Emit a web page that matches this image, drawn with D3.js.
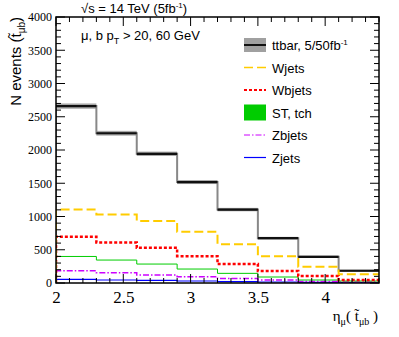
<!DOCTYPE html>
<html>
<head>
<meta charset="utf-8">
<script src="https://d3js.org/d3.v7.min.js"></script>
<style>
  body, html { margin: 0; background: #fff; }
  text { font-family: "Liberation Sans", Arial, sans-serif; }
</style>
</head>
<body>
<svg id="chart" width="399" height="337"></svg>
<script>
// bin edges in eta
var edges = [2, 2.3, 2.6, 2.9, 3.2, 3.5, 3.8, 4.1, 4.4];
// events per bin
var ttbar  = [2660, 2252, 1943, 1518, 1104, 674, 394, 184];
var ttErr  = [40, 36, 33, 30, 26, 20, 16, 12];
var wjets  = [1104, 1029, 933, 769, 584, 404, 245, 130];
var wbjets = [694, 609, 529, 404, 285, 180, 105, 45];
var sttch  = [399, 345, 285, 210, 145, 90, 45, 30];
var zbjets = [184, 155, 120, 95, 67, 45, 22, 15];
var zjets  = [55, 45, 38, 30, 22, 15, 8, 5];
var yTicks = [0, 500, 1000, 1500, 2000, 2500, 3000, 3500, 4000];
var xTicks = [2, 2.5, 3, 3.5, 4];

var svg = d3.select("#chart");
var L = 56, R = 379, T = 17, B = 283;
var serif = "'Liberation Serif', 'Times New Roman', serif";

var x = d3.scaleLinear().domain([2, 4.4]).range([L, R]);
var y = d3.scaleLinear().domain([0, 4000]).range([B, T]);

svg.append("clipPath").attr("id", "clip")
  .append("rect").attr("x", L).attr("y", T).attr("width", R - L).attr("height", B - T);

var plot = svg.append("g").attr("clip-path", "url(#clip)");

function stepPts(vals) {
  var pts = [[edges[0], 0]];
  vals.forEach(function(v, i) { pts.push([edges[i], v]); });
  pts.push([edges[edges.length - 1], vals[vals.length - 1]]);
  return pts;
}
var step = d3.line()
  .x(function(d) { return x(d[0]); })
  .y(function(d) { return y(d[1]); })
  .curve(d3.curveStepAfter);

// ttbar uncertainty band
plot.selectAll("rect.band").data(ttbar).enter().append("rect")
  .attr("class", "band")
  .attr("x", function(d, i) { return x(edges[i]); })
  .attr("width", function(d, i) { return x(edges[i + 1]) - x(edges[i]); })
  .attr("y", function(d, i) { return y(d + ttErr[i]); })
  .attr("height", function(d, i) { return y(d - ttErr[i]) - y(d + ttErr[i]); })
  .attr("fill", "#a8a8a8");

plot.append("path").attr("d", step(stepPts(ttbar)))
  .attr("fill", "none").attr("stroke", "#888").attr("stroke-width", 2);
plot.selectAll("line.tt").data(ttbar).enter().append("line")
  .attr("x1", function(d, i) { return x(edges[i]); })
  .attr("x2", function(d, i) { return x(edges[i + 1]); })
  .attr("y1", function(d) { return y(d); })
  .attr("y2", function(d) { return y(d); })
  .attr("stroke", "#111").attr("stroke-width", 2.2);

var series = [
  { vals: zjets,  color: "#0000ff", w: 1.2, dash: null },
  { vals: zbjets, color: "#cc00ff", w: 1.5, dash: "6,2,1.5,2" },
  { vals: sttch,  color: "#00cc00", w: 1,   dash: null },
  { vals: wbjets, color: "#ff0000", w: 2.5, dash: "3,2" },
  { vals: wjets,  color: "#ffcc00", w: 2,   dash: "9,4" }
];
series.forEach(function(s) {
  plot.append("path").attr("d", step(stepPts(s.vals)))
    .attr("fill", "none").attr("stroke", s.color)
    .attr("stroke-width", s.w).attr("stroke-dasharray", s.dash);
});

// frame ticks (inside, all four sides)
var xMinor = d3.range(20, 45).map(function(d) { return d / 10; });
var yMinor = d3.range(0, 4001, 100);
var ax = svg.append("g").attr("stroke", "#000").attr("stroke-width", 1);
xMinor.forEach(function(v) {
  var big = xTicks.some(function(t) { return Math.abs(t - v) < 1e-6; });
  var len = big ? 9 : 5;
  ax.append("line").attr("x1", x(v)).attr("x2", x(v)).attr("y1", B).attr("y2", B - len);
  ax.append("line").attr("x1", x(v)).attr("x2", x(v)).attr("y1", T).attr("y2", T + len);
});
yMinor.forEach(function(v) {
  var len = v % 500 === 0 ? 9 : 5;
  ax.append("line").attr("y1", y(v)).attr("y2", y(v)).attr("x1", L).attr("x2", L + len);
  ax.append("line").attr("y1", y(v)).attr("y2", y(v)).attr("x1", R).attr("x2", R - len);
});
svg.append("rect").attr("x", L).attr("y", T).attr("width", R - L).attr("height", B - T)
  .attr("fill", "none").attr("stroke", "#000").attr("stroke-width", 1.5);

var xAxis = d3.axisBottom(x).tickValues(xTicks).tickSize(0).tickPadding(8)
  .tickFormat(function(d) { return d; });
svg.append("g").attr("transform", "translate(0," + B + ")").call(xAxis)
  .call(function(g) { g.select(".domain").remove(); })
  .selectAll("text").style("font-family", serif).style("font-size", "17px").attr("fill", "#000");

var yAxis = d3.axisLeft(y).tickValues(yTicks).tickSize(0).tickPadding(4)
  .tickFormat(d3.format("d"));
svg.append("g").attr("transform", "translate(" + L + ",0)").call(yAxis)
  .call(function(g) { g.select(".domain").remove(); })
  .selectAll("text").style("font-family", serif).style("font-size", "12px").attr("fill", "#000");

// titles
var t1 = svg.append("text").attr("x", 81).attr("y", 13).attr("font-size", 13);
t1.append("tspan").text("\u221As = 14 TeV (5fb");
t1.append("tspan").attr("dy", -5).attr("font-size", 8).text("-1");
t1.append("tspan").attr("dy", 5).text(")");

var t2 = svg.append("text").attr("x", 81).attr("y", 40).attr("font-size", 13);
t2.append("tspan").text("\u03BC, b p");
t2.append("tspan").attr("dy", 4).attr("font-size", 9).text("T");
t2.append("tspan").attr("dy", -4).text(" > 20, 60 GeV");

var yl = svg.append("text").attr("transform", "translate(21,17) rotate(-90)")
  .attr("text-anchor", "end").attr("font-size", 15);
yl.append("tspan").text("N events (t\u0303");
yl.append("tspan").attr("dy", 4).attr("font-size", 10).text("\u03BCb");
yl.append("tspan").attr("dy", -4).text(")");

var xl = svg.append("text").attr("x", 378).attr("y", 321).attr("text-anchor", "end")
  .style("font-family", serif).attr("font-size", 15);
xl.append("tspan").text("\u03B7");
xl.append("tspan").attr("dy", 4).attr("font-size", 10).text("\u03BC");
xl.append("tspan").attr("dy", -4).text("( t\u0303");
xl.append("tspan").attr("dy", 4).attr("font-size", 10).text("\u03BCb");
xl.append("tspan").attr("dy", -4).text(" )");

// legend
var legNames = ["ttbar, 5/50fb", "Wjets", "Wbjets", "ST, tch", "Zbjets", "Zjets"];
var legY = [45, 67.5, 90, 112.5, 135, 157.5];
var lg = svg.append("g");
var sx0 = 244, sx1 = 266;
lg.append("rect").attr("x", sx0).attr("y", legY[0] - 7).attr("width", sx1 - sx0).attr("height", 14).attr("fill", "#a0a0a0");
lg.append("line").attr("x1", sx0).attr("x2", sx1).attr("y1", legY[0]).attr("y2", legY[0]).attr("stroke", "#111").attr("stroke-width", 2);
lg.append("line").attr("x1", sx0).attr("x2", sx1).attr("y1", legY[1]).attr("y2", legY[1]).attr("stroke", "#ffcc00").attr("stroke-width", 1.5).attr("stroke-dasharray", "9,4");
lg.append("line").attr("x1", sx0).attr("x2", sx1).attr("y1", legY[2]).attr("y2", legY[2]).attr("stroke", "#ff0000").attr("stroke-width", 2).attr("stroke-dasharray", "3,2");
lg.append("rect").attr("x", sx0).attr("y", legY[3] - 8).attr("width", sx1 - sx0).attr("height", 16).attr("fill", "#00cc00");
lg.append("line").attr("x1", sx0).attr("x2", sx1).attr("y1", legY[4]).attr("y2", legY[4]).attr("stroke", "#cc00ff").attr("stroke-width", 1).attr("stroke-dasharray", "6,2,1.5,2");
lg.append("line").attr("x1", sx0).attr("x2", sx1).attr("y1", legY[5]).attr("y2", legY[5]).attr("stroke", "#0000ff").attr("stroke-width", 1.2);

legNames.forEach(function(n, i) {
  var t = lg.append("text").attr("x", 272).attr("y", legY[i] + 5).attr("font-size", 13).text(n);
  if (i === 0) t.append("tspan").attr("dy", -5).attr("font-size", 8).text("-1");
});
</script>
</body>
</html>
